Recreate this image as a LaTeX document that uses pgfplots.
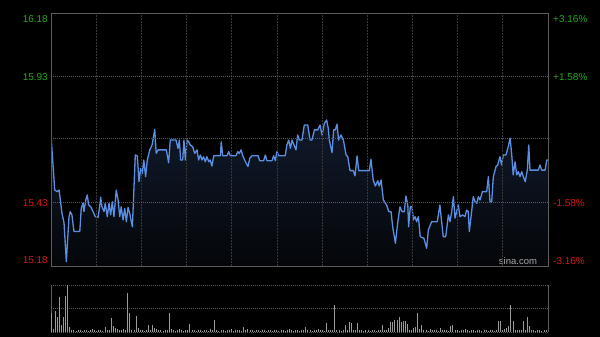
\documentclass[border=0pt]{standalone}
\usepackage{pgfplots}
\pgfplotsset{compat=1.18}
\usepgfplotslibrary{fillbetween}
\tikzset{fill between/on layer=main}
\usepackage{fontspec}
\setmainfont{Liberation Sans}
\definecolor{frm}{HTML}{5A5A5A}
\definecolor{gridv}{HTML}{383838}
\definecolor{gridh}{HTML}{5A5A5A}
\definecolor{midl}{HTML}{8A8A8A}
\definecolor{pline}{HTML}{5A8FE2}
\definecolor{upc}{HTML}{22A822}
\definecolor{dnc}{HTML}{D81818}
\definecolor{volc}{HTML}{9A9A9A}
\definecolor{areatop}{HTML}{111A2C}
\definecolor{areabot}{HTML}{040609}
\pgfplotstableread{
t p
0 15.698
1.8 15.480
3.0 15.474
3.9 15.480
4.3 15.454
5.3 15.389
6.3 15.350
7.4 15.197
8.7 15.375
9.3 15.395
10.1 15.382
11.1 15.316
13.9 15.316
14.6 15.408
15.5 15.429
15.9 15.395
16.8 15.441
17.5 15.461
18.2 15.421
19.2 15.414
20.3 15.395
21.4 15.375
22.7 15.372
23.5 15.414
24.0 15.452
24.6 15.414
25.6 15.395
26.2 15.428
27.2 15.375
28.0 15.428
28.8 15.382
29.6 15.434
30.4 15.375
31.5 15.480
32.4 15.441
33.2 15.375
33.9 15.414
34.8 15.362
35.6 15.408
36.4 15.355
37.2 15.412
38.0 15.388
39.3 15.335
40.7 15.619
41.7 15.615
42.5 15.513
43.3 15.566
44.1 15.546
44.8 15.599
45.7 15.533
46.5 15.599
47.7 15.639
48.8 15.658
50.1 15.720
50.8 15.625
51.7 15.639
55.7 15.639
56.8 15.588
57.6 15.678
60.4 15.678
61.3 15.645
62.0 15.678
62.6 15.599
63.6 15.599
64.2 15.678
64.9 15.599
65.7 15.678
66.5 15.671
67.3 15.658
68.4 15.652
69.4 15.625
70.5 15.639
71.3 15.599
72.1 15.619
72.9 15.599
73.7 15.612
74.5 15.592
75.3 15.612
76.2 15.592
76.9 15.599
77.7 15.575
78.6 15.616
81.8 15.616
82.2 15.671
82.9 15.616
85.0 15.616
85.8 15.632
86.6 15.616
89.3 15.616
90.2 15.632
90.9 15.625
91.8 15.639
92.6 15.616
93.5 15.599
94.3 15.586
95.1 15.573
96.0 15.606
97.1 15.616
100.0 15.616
100.8 15.596
102.7 15.596
103.5 15.619
104.3 15.596
106.7 15.596
107.5 15.616
108.3 15.596
109.1 15.632
110.0 15.616
113.1 15.616
113.9 15.658
114.8 15.678
115.6 15.645
116.4 15.678
118.3 15.639
119.1 15.698
119.9 15.678
121.2 15.678
122.3 15.737
124.0 15.737
125.1 15.678
126.0 15.678
127.2 15.718
128.8 15.718
129.9 15.737
130.9 15.698
132.0 15.744
133.1 15.757
133.9 15.724
134.4 15.678
135.7 15.628
136.5 15.718
137.3 15.718
138.1 15.741
138.9 15.678
140.0 15.698
141.2 15.678
142.5 15.619
143.3 15.612
144.4 15.557
146.0 15.557
146.8 15.536
147.8 15.615
148.6 15.557
153.7 15.557
154.5 15.602
155.6 15.520
156.6 15.496
157.8 15.517
158.5 15.496
159.4 15.520
160.5 15.441
162.1 15.421
163.1 15.395
164.2 15.395
165.0 15.335
166.3 15.270
167.4 15.349
168.5 15.414
169.5 15.395
170.6 15.395
171.4 15.457
172.3 15.421
172.7 15.335
173.5 15.414
174.3 15.414
175.0 15.362
175.8 15.375
176.6 15.355
177.4 15.375
178.3 15.296
180.1 15.289
181.4 15.250
182.2 15.322
183.8 15.355
186.5 15.355
187.8 15.421
189.4 15.296
190.6 15.296
191.9 15.382
192.7 15.355
193.5 15.395
194.3 15.454
195.1 15.369
195.9 15.395
196.7 15.421
197.5 15.375
198.8 15.382
199.9 15.375
200.7 15.401
201.5 15.395
202.0 15.316
203.2 15.401
203.9 15.454
204.8 15.434
205.6 15.428
206.4 15.454
207.2 15.441
208.3 15.474
210.4 15.474
211.2 15.533
212.0 15.434
212.8 15.434
213.6 15.533
214.9 15.573
215.7 15.579
216.8 15.612
217.6 15.579
218.4 15.619
219.7 15.619
220.8 15.652
221.7 15.685
222.5 15.619
223.2 15.540
224.1 15.592
224.9 15.540
225.7 15.553
226.5 15.533
227.3 15.553
228.1 15.533
229.0 15.513
230.0 15.559
230.7 15.658
231.3 15.559
235.3 15.559
236.1 15.579
237.0 15.559
238.6 15.559
239.4 15.599
240.0 15.599
}\pricetable
\begin{document}
\begin{tikzpicture}
\fill[black] (0pt,0pt) rectangle (600pt,337pt);
\begin{axis}[at={(51pt,71pt)}, anchor=south west, scale only axis,
  width=497pt, height=253pt,
  xmin=0, xmax=240, ymin=15.18, ymax=16.18,
  axis line style={frm, line width=0.8pt},
  axis on top,
  xtick={21.818,43.636,65.455,87.273,109.09,130.91,152.73,174.55,196.36,218.18},
  ytick={15.43,15.93},
  extra y ticks={15.684}, extra y tick labels={},
  extra y tick style={grid style={midl, dash pattern=on 3pt off 1pt on 1pt off 1pt, line width=0.5pt}},
  xticklabels={}, yticklabels={},
  major tick length=0pt,
  grid=major,
  x grid style={gridv, dash pattern=on 2pt off 1pt, line width=0.8pt},
  y grid style={gridh, dash pattern=on 1pt off 1pt, line width=0.5pt},
]
\addplot[name path=price, draw=none, forget plot] table[x=t, y=p] {\pricetable};
\addplot[name path=base, draw=none, forget plot] coordinates {(0,15.18) (240,15.18)};
\addplot[top color=areatop, bottom color=areabot, draw=none, forget plot] fill between[of=price and base];
\addplot[pline, line width=1.3pt, line join=round] table[x=t, y=p] {\pricetable};
\end{axis}
\begin{axis}[at={(51pt,5pt)}, anchor=south west, scale only axis,
  width=497pt, height=47pt,
  xmin=0, xmax=240, ymin=0, ymax=47,
  separate axis lines,
  x axis line style={draw=none},
  y axis line style={frm, line width=0.8pt},
  xtick=\empty, ytick={23.5,47},
  yticklabels={}, major tick length=0pt,
  ymajorgrids, y grid style={gridh, dash pattern=on 1pt off 1pt, line width=0.6pt},
  extra y ticks={0}, extra y tick labels={},
  extra y tick style={grid style={frm, solid, line width=0.6pt}},
]
\addplot[ycomb, volc, line width=0.6pt, mark=none] coordinates {
(0,19)(1,3)(2,21)(3,15)(4,35)(5,7)(6,15)(7,36)(8,47)(9,5)
(10,2)(11,1.5)(12,1)(13,2)(14,1.5)(15,1.2)(16,2)(17,1.5)(18,1)(19,1.8)
(20,3)(21,1.5)(22,1.2)(23,2)(24,1.5)(25,1)(26,5)(27,1.5)(28,2)(29,14)
(30,6)(31,4)(32,3)(33,1.5)(34,2)(35,3)(36,1.5)(37,39)(38,19)(39,2)
(40,1.5)(41,16)(42,4)(43,2)(44,1.5)(45,1.2)(46,2)(47,7)(48,1.5)(49,7)
(50,4)(51,3)(52,1.5)(53,2)(54,1.2)(55,1.5)(56,2)(57,19)(58,3)(59,1.5)
(60,1.2)(61,2)(62,2.5)(63,1.5)(64,1)(65,1.8)(66,1.5)(67,8)(68,2)(69,1.5)
(70,1.2)(71,2)(72,1.5)(73,1)(74,1.8)(75,1.5)(76,1.2)(77,3)(78,2)(79,12)
(80,1.5)(81,1.2)(82,2)(83,1.5)(84,1)(85,1.8)(86,1.5)(87,2.5)(88,1.2)(89,1.5)
(90,2)(91,1.5)(92,1.2)(93,5)(94,1.5)(95,3)(96,2)(97,1.5)(98,1)(99,1.8)
(100,1.5)(101,1.2)(102,2)(103,1.5)(104,1)(105,1.8)(106,1.5)(107,1.2)(108,2)(109,1.5)
(110,1.2)(111,2)(112,1.5)(113,1)(114,1.8)(115,2.5)(116,1.5)(117,1.2)(118,2)(119,1.5)
(120,1.2)(121,2)(122,1.5)(123,5)(124,1.8)(125,1.5)(126,1.2)(127,2)(128,1.5)(129,3)
(130,1.5)(131,2)(132,1.2)(133,9)(134,1.5)(135,2)(136,1.5)(137,27)(138,2)(139,1.5)
(140,1.2)(141,2)(142,7)(143,1.5)(144,10)(145,9)(146,1.8)(147,1.5)(148,9)(149,2)
(150,1.5)(151,1.2)(152,2)(153,1.5)(154,1)(155,1.8)(156,1.5)(157,1.2)(158,2)(159,1.5)
(160,7)(161,2)(162,1.5)(163,4)(164,10)(165,10)(166,12)(167,12)(168,15)(169,10)
(170,11)(171,11)(172,8)(173,2)(174,1.5)(175,4)(176,5)(177,19)(178,2.5)(179,7)
(180,2)(181,1.5)(182,1.2)(183,3)(184,1.5)(185,2)(186,1.5)(187,1.2)(188,4)(189,1.5)
(190,2)(191,1.5)(192,1.2)(193,6)(194,7)(195,2)(196,1.5)(197,1.2)(198,1.8)(199,1.5)
(200,2.5)(201,1.5)(202,1.2)(203,2)(204,1.5)(205,1)(206,1.8)(207,1.5)(208,1.2)(209,2)
(210,1.5)(211,1.2)(212,2)(213,1.5)(214,1)(215,1.8)(216,11)(217,11)(218,2)(219,3)
(220,4)(221,6)(222,27)(223,11)(224,2)(225,1.5)(226,1.8)(227,1.5)(228,11)(229,2)
(230,15)(231,6)(232,2)(233,1.5)(234,1.2)(235,2)(236,1.5)(237,1)(238,1.8)(239,1.5)
(240,1.5)
};
\end{axis}
\begin{scope}[every node/.style={inner sep=0pt, font=\fontsize{10}{12}\selectfont}]
\node[anchor=east, text=upc] at (48pt,318pt) {16.18};
\node[anchor=east, text=upc] at (48pt,260pt) {15.93};
\node[anchor=east, text=dnc] at (48pt,134pt) {15.43};
\node[anchor=east, text=dnc] at (48pt,77pt) {15.18};
\node[anchor=west, text=upc] at (553pt,318pt) {+3.16\%};
\node[anchor=west, text=upc] at (553pt,260pt) {+1.58\%};
\node[anchor=west, text=dnc] at (553pt,134pt) {-1.58\%};
\node[anchor=west, text=dnc] at (553pt,76pt) {-3.16\%};
\node[text=white!65!black, font=\fontsize{9.5}{11}\selectfont] at (518pt,76pt) {sina.com};
\end{scope}
\end{tikzpicture}
\end{document}
